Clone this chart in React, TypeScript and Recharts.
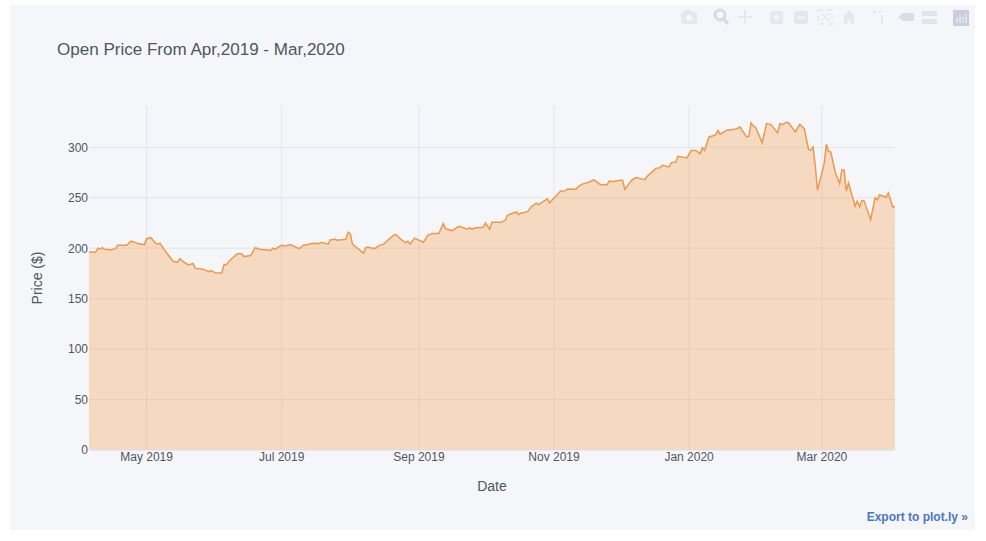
import { AreaChart, Area, XAxis, YAxis, CartesianGrid } from "recharts";

const DATES = [
  "2019-04-05", "2019-04-08", "2019-04-09", "2019-04-10", "2019-04-11", "2019-04-12", "2019-04-15", "2019-04-17", "2019-04-18", "2019-04-22",
  "2019-04-24", "2019-04-25", "2019-04-27", "2019-04-30", "2019-05-01", "2019-05-03", "2019-05-05", "2019-05-06", "2019-05-07", "2019-05-09",
  "2019-05-13", "2019-05-15", "2019-05-16", "2019-05-18", "2019-05-20", "2019-05-22", "2019-05-23", "2019-05-27", "2019-05-29", "2019-05-30",
  "2019-06-01", "2019-06-04", "2019-06-05", "2019-06-06", "2019-06-07", "2019-06-11", "2019-06-13", "2019-06-14", "2019-06-17", "2019-06-19",
  "2019-06-21", "2019-06-25", "2019-06-26", "2019-06-27", "2019-06-28", "2019-07-01", "2019-07-02", "2019-07-05", "2019-07-06", "2019-07-09",
  "2019-07-11", "2019-07-12", "2019-07-15", "2019-07-18", "2019-07-19", "2019-07-22", "2019-07-23", "2019-07-24", "2019-07-25", "2019-07-26",
  "2019-07-30", "2019-07-31", "2019-08-01", "2019-08-02", "2019-08-05", "2019-08-07", "2019-08-08", "2019-08-09", "2019-08-12", "2019-08-14",
  "2019-08-16", "2019-08-19", "2019-08-21", "2019-08-22", "2019-08-24", "2019-08-26", "2019-08-27", "2019-08-28", "2019-08-30", "2019-09-01",
  "2019-09-03", "2019-09-05", "2019-09-07", "2019-09-10", "2019-09-12", "2019-09-13", "2019-09-16", "2019-09-19", "2019-09-20", "2019-09-23",
  "2019-09-24", "2019-09-25", "2019-09-26", "2019-09-30", "2019-10-01", "2019-10-03", "2019-10-04", "2019-10-08", "2019-10-10", "2019-10-11",
  "2019-10-15", "2019-10-16", "2019-10-17", "2019-10-20", "2019-10-22", "2019-10-24", "2019-10-25", "2019-10-29", "2019-10-30", "2019-11-04",
  "2019-11-06", "2019-11-07", "2019-11-11", "2019-11-12", "2019-11-14", "2019-11-17", "2019-11-19", "2019-11-22", "2019-11-25", "2019-11-26",
  "2019-11-27", "2019-12-01", "2019-12-02", "2019-12-03", "2019-12-06", "2019-12-08", "2019-12-10", "2019-12-12", "2019-12-13", "2019-12-17",
  "2019-12-19", "2019-12-20", "2019-12-23", "2019-12-24", "2019-12-26", "2019-12-27", "2019-12-31", "2020-01-02", "2020-01-04", "2020-01-06",
  "2020-01-07", "2020-01-08", "2020-01-10", "2020-01-13", "2020-01-14", "2020-01-15", "2020-01-18", "2020-01-21", "2020-01-23", "2020-01-24",
  "2020-01-27", "2020-01-28", "2020-01-29", "2020-01-30", "2020-01-31", "2020-02-03", "2020-02-05", "2020-02-07", "2020-02-10", "2020-02-11",
  "2020-02-12", "2020-02-14", "2020-02-15", "2020-02-18", "2020-02-20", "2020-02-22", "2020-02-24", "2020-02-25", "2020-02-26", "2020-02-27",
  "2020-02-28", "2020-03-02", "2020-03-03", "2020-03-04", "2020-03-05", "2020-03-07", "2020-03-09", "2020-03-10", "2020-03-11", "2020-03-12",
  "2020-03-13", "2020-03-16", "2020-03-17", "2020-03-18", "2020-03-19", "2020-03-20", "2020-03-23", "2020-03-25", "2020-03-26", "2020-03-27",
  "2020-03-30", "2020-03-31", "2020-04-02", "2020-04-03",
];

const OPEN_PRICES = [
  196.3, 196, 200, 199, 200.6, 199, 198.6, 199.6, 203, 203,
  207, 206.5, 204.6, 203.6, 209.5, 210.5, 205, 204, 205, 198.6,
  187, 186, 189.7, 186, 183.4, 185, 180, 179, 176.8, 177.8,
  175.8, 175.5, 184, 183.4, 186.7, 194.6, 194.6, 191.7, 192.7, 200.6,
  199, 198.3, 197.6, 200, 199, 203.2, 202, 203.6, 202.6, 199.6,
  203.2, 203.2, 205, 204.6, 205.9, 204, 208.5, 208.5, 209, 208,
  208.9, 216, 214.5, 204, 198.6, 195, 200.6, 201.3, 199.6, 202.6,
  204, 210, 213.5, 213, 208.5, 205.6, 207, 204, 210, 208,
  206, 212.8, 214.5, 214.5, 224.4, 219.4, 217.5, 221.8, 221, 218.8,
  220.4, 218.8, 220, 220.8, 225, 218.8, 225.7, 225.7, 227.7, 232.7,
  236, 233.3, 234.7, 236.3, 241.6, 244.6, 243.3, 249, 245, 256.8,
  257, 258.8, 258.5, 261.4, 263.8, 265.7, 267.7, 263, 263, 266.7,
  266, 267.3, 267.3, 258.4, 267.3, 270, 269, 268, 271, 279.2,
  279.9, 282.2, 280.6, 284.9, 285.5, 291.1, 289.5, 297, 297, 293.8,
  299.7, 297, 310.3, 312.3, 316.6, 313, 317, 317.6, 319, 320.2,
  310.3, 311, 324.2, 321, 320.2, 304.7, 323.6, 322.6, 314.3, 323.6,
  322.6, 324.9, 324.2, 315.3, 322.9, 318.6, 298, 297, 300.4, 281.6,
  257.4, 283.9, 303, 296.1, 295.4, 275.6, 264, 277.6, 277.6, 256.7,
  264.7, 241.9, 246.8, 240.9, 247.2, 247.2, 228.3, 250.1, 247.8, 252.8,
  250.8, 254.8, 240.9, 241.5,
];

const X_TICK_DATES = ["2019-05-01", "2019-07-01", "2019-09-01", "2019-11-01", "2020-01-01", "2020-03-01"];
const Y_TICKS = [0, 50, 100, 150, 200, 250, 300];
const MONTHS = ["Jan", "Feb", "Mar", "Apr", "May", "Jun", "Jul", "Aug", "Sep", "Oct", "Nov", "Dec"];

const chartData = DATES.map((d, i) => ({ date: Date.parse(d), open: OPEN_PRICES[i] }));
const xTicks = X_TICK_DATES.map((d) => Date.parse(d));

const formatMonth = (t: number) => {
  const d = new Date(t);
  return `${MONTHS[d.getUTCMonth()]} ${d.getUTCFullYear()}`;
};

const FONT = '"Liberation Sans", Arial, sans-serif';
const TEXT = "#4D5663";
const GRID = "#E1E5ED";
const BG = "#F5F6F9";

const Modebar = () => (
  <svg width={316} height={30} style={{ position: "absolute", left: 670, top: 2 }}>
    {/* camera */}
    <g fill="#e6e7ec">
      <rect x={11} y={10} width={16} height={12} rx={2} />
      <rect x={15} y={8} width={7} height={3} />
    </g>
    <circle cx={19} cy={16} r={3} fill={BG} />
    {/* zoom */}
    <circle cx={50} cy={13} r={5} fill="none" stroke="#d8dae1" strokeWidth={3} />
    <line x1={54} y1={17} x2={58} y2={22} stroke="#d8dae1" strokeWidth={3} />
    {/* pan */}
    <g stroke="#e6e8ed" strokeWidth={2}>
      <line x1={68} y1={15} x2={82} y2={15} />
      <line x1={75} y1={8} x2={75} y2={22} />
    </g>
    {/* zoom in, zoom out */}
    <rect x={100} y={9} width={13} height={13} rx={2} fill="#e6e8ed" />
    <path d="M103 15.5h7M106.5 12v7" stroke={BG} strokeWidth={2} />
    <rect x={124} y={9} width={14} height={13} rx={2} fill="#e4e6eb" />
    <path d="M127 15.5h8" stroke={BG} strokeWidth={2} />
    {/* autoscale */}
    <rect x={148} y={8} width={14} height={14} fill="none" stroke="#e8e9ee" strokeWidth={2} strokeDasharray="5 4" />
    <path d="M151 11l8 8M159 11l-8 8" stroke="#e8e9ee" strokeWidth={1.5} />
    {/* home */}
    <path d="M172 15l7-7 7 7h-2v7h-3.500v-4h-3v4H174v-7z" fill="#e6e8ed" />
    {/* spikes */}
    <path d="M203 10h3M209 10h3" stroke="#e6e8ed" strokeWidth={2} />
    <line x1={212} y1={13} x2={212} y2={22} stroke="#e6e8ed" strokeWidth={2} />
    {/* hover closest, compare */}
    <path d="M228 15l5-4h11v8h-11z" fill="#dcdee5" />
    <rect x={252} y={9} width={15} height={5} fill="#e2e4ea" />
    <rect x={252} y={17} width={15} height={5} fill="#e2e4ea" />
    {/* plotly logo */}
    <rect x={283} y={8} width={16} height={16} fill="#c9cede" />
    <path d="M287 21v-5M290 21v-8M293 21v-6M296 21v-9" stroke={BG} strokeWidth={1} />
  </svg>
);

const App = () => {
  return (
    <div style={{ position: "absolute", left: 0, top: 0, width: 986, height: 541, background: "#fff", fontFamily: FONT, overflow: "hidden" }}>
      <div style={{ position: "absolute", left: 10, top: 5, width: 965, height: 525, background: BG }}>
        <AreaChart
          width={965}
          height={525}
          data={chartData}
          margin={{ top: 101, right: 80, bottom: 0, left: 0 }}
        >
          <CartesianGrid stroke={GRID} strokeWidth={1} syncWithTicks />
          <XAxis
            dataKey="date"
            type="number"
            scale="time"
            domain={[Date.parse("2019-04-05"), Date.parse("2020-04-03")]}
            ticks={xTicks}
            tickFormatter={formatMonth}
            height={80}
            tickLine={false}
            tickSize={0}
            tickMargin={2}
            axisLine={{ stroke: GRID }}
            tick={{ fill: TEXT, fontSize: 12, fontFamily: FONT }}
            interval={0}
            allowDataOverflow
          />
          <YAxis
            type="number"
            domain={[0, 341]}
            ticks={Y_TICKS}
            width={79}
            tickLine={false}
            tickSize={0}
            tickMargin={1}
            axisLine={false}
            tick={{ fill: TEXT, fontSize: 12, fontFamily: FONT }}
            interval={0}
            allowDataOverflow
          />
          <Area
            dataKey="open"
            type="linear"
            stroke="#EB9A4C"
            strokeWidth={1.5}
            fill="#F5953E"
            fillOpacity={0.3}
            dot={false}
            activeDot={false}
            isAnimationActive={false}
          />
        </AreaChart>
      </div>
      <div style={{ position: "absolute", left: 57, top: 40, fontSize: 17.05, color: TEXT, whiteSpace: "nowrap" }}>
        Open Price From Apr,2019 - Mar,2020
      </div>
      <div style={{ position: "absolute", left: 0, top: 270, width: 74, textAlign: "center", fontSize: 14, color: TEXT, transform: "rotate(-90deg)", whiteSpace: "nowrap" }}>
        Price ($)
      </div>
      <div style={{ position: "absolute", left: 442, top: 478, width: 100, textAlign: "center", fontSize: 14, color: TEXT }}>
        Date
      </div>
      <div style={{ position: "absolute", right: 18, top: 510, fontSize: 12, fontWeight: 700, color: "#4A78C2", whiteSpace: "nowrap" }}>
        Export to plot.ly »
      </div>
      <Modebar />
    </div>
  );
};

export default App;
